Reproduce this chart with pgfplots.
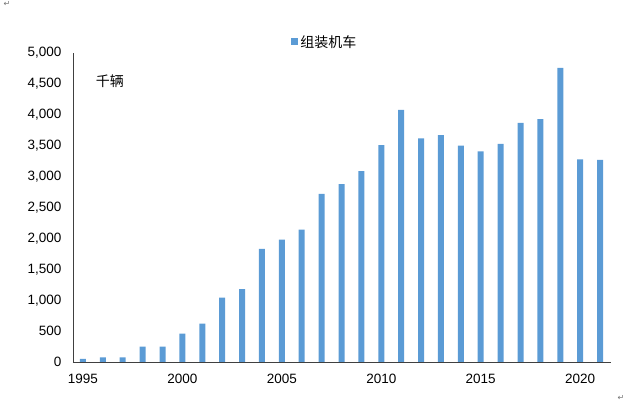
\documentclass[border=0pt]{standalone}
\usepackage{pgfplots}
\pgfplotsset{compat=1.18}
\usepackage{fontspec}
\setmainfont{Liberation Sans}
\newfontfamily\cjk{Noto Sans CJK SC}
\newfontfamily\dejavu{DejaVu Sans}
\definecolor{barblue}{HTML}{5B9BD5}
\begin{document}
\begin{tikzpicture}[x=1pt,y=1pt]
\path[use as bounding box] (0,0) rectangle (638,407);
\node[font=\dejavu\fontsize{8}{8}\selectfont, text=black!55, inner sep=0pt] at (7,403) {↵};
\node[font=\dejavu\fontsize{8}{8}\selectfont, text=black!55, inner sep=0pt] at (621,9) {↵};
\begin{axis}[
  at={(73pt,45pt)}, anchor=origin,
  scale only axis, width=538pt, height=309pt,
  xmin=1994.5, xmax=2021.55, ymin=0, ymax=5000,
  axis x line*=bottom, axis y line*=left,
  axis line style={draw=black!75, line width=0.8pt, -},
  xtick={1995,2000,2005,2010,2015,2020},
  ytick={0,500,...,5000},
  major tick length=0pt,
  x tick label style={/pgf/number format/1000 sep={}},
  y tick label style={/pgf/number format/1000 sep={,}, /pgf/number format/fixed},
  /pgf/number format/assume math mode=true,
  tick label style={font=\fontsize{13.5}{15}\selectfont, text=black},
  yticklabel style={xshift=-8pt},
  xticklabel style={yshift=-9pt},
  ybar, bar width=6pt,
  legend style={at={(0.468,1.036)}, anchor=center, draw=none, fill=none,
    font=\cjk\fontsize{14}{16}\selectfont},
  clip=false,
]
\addplot[fill=barblue, draw=none,
  legend image code/.code={\fill[barblue] (0pt,-3.5pt) rectangle (7pt,3.5pt);}] coordinates {
(1995,50) (1996,75) (1997,75) (1998,250) (1999,250) (2000,460) (2001,620)
(2002,1040) (2003,1180) (2004,1830) (2005,1980) (2006,2140) (2007,2720)
(2008,2880) (2009,3090) (2010,3510) (2011,4080) (2012,3620) (2013,3670)
(2014,3500) (2015,3410) (2016,3530) (2017,3870) (2018,3930) (2019,4760)
(2020,3280) (2021,3270)};
\addlegendentry{组装机车}
\node[anchor=west, font=\cjk\fontsize{14}{16}\selectfont] at (rel axis cs:0.036,0.91) {千辆};
\end{axis}
\end{tikzpicture}
\end{document}
